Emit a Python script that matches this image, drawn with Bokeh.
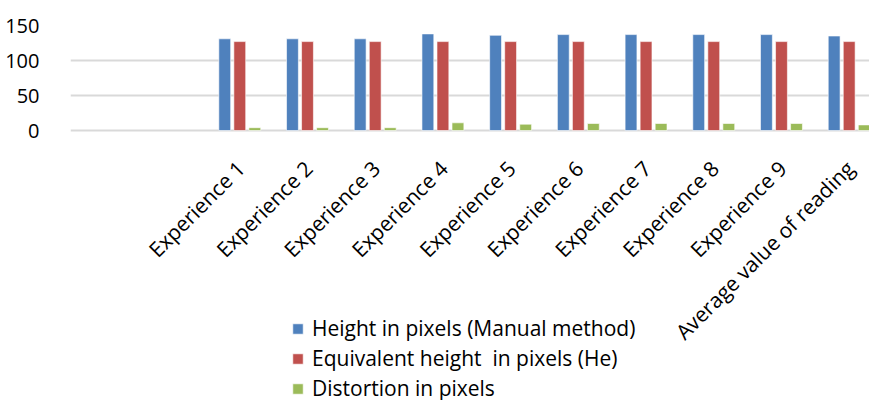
import numpy as np
from bokeh.plotting import figure
from bokeh.models import Range1d, FixedTicker, Legend, LegendItem
from bokeh.core.properties import value
from bokeh.embed import file_html
from bokeh.resources import INLINE

categories = ["", "", "Experience 1", "Experience 2", "Experience 3", "Experience 4",
              "Experience 5", "Experience 6", "Experience 7", "Experience 8",
              "Experience 9", "Average value of reading"]
manual = [None, None, 131, 131, 131, 138, 136, 137, 137, 137, 137, 135]
equivalent = [None, None, 127, 127, 127, 127, 127, 127, 127, 127, 127, 127]
distortion = [None, None, 4, 4, 4, 11, 9, 10, 10, 10, 10, 8]
series_names = ["Height in pixels (Manual method)", "Equivalent height  in pixels (He)",
                "Distortion in pixels"]
colors = ["#4F81BD", "#C0504D", "#9BBB59"]
y_ticks = [0, 50, 100, 150]

FONT = "Open Sans"

# frame spans the whole lower area so the legend and rotated labels can live inside it
p = figure(width=869, height=400, output_backend="svg", toolbar_location=None,
           x_range=Range1d(0, 11.8), y_range=Range1d(-385.7, 150))
p.min_border_left = 70
p.min_border_top = 25
p.min_border_right = 0
p.min_border_bottom = 0
p.outline_line_color = None
p.background_fill_color = "white"

centers = np.arange(len(categories)) + 0.5
offsets = [-0.222, 0.0, 0.222]
renderers = []
for vals, off, col in zip([manual, equivalent, distortion], offsets, colors):
    xs = [c + off for c, v in zip(centers, vals) if v is not None]
    ys = [v for v in vals if v is not None]
    r = p.vbar(x=xs, top=ys, bottom=0, width=0.175, fill_color=col,
               line_color="white", line_alpha=0.6, line_width=1)
    renderers.append(r)

# category labels, rotated 45 degrees, hanging below the zero line
p.text(x=centers, y=np.zeros(len(centers)), text=categories, angle=np.pi / 4,
       text_align="right", text_baseline="middle", x_offset=1, y_offset=34,
       text_font=value(FONT), text_font_size="21px", text_color="black")

p.xaxis.visible = False

p.yaxis.ticker = FixedTicker(ticks=y_ticks)
p.yaxis.axis_line_color = None
p.yaxis.major_tick_line_color = None
p.yaxis.minor_tick_line_color = None
p.yaxis.major_label_text_font = FONT
p.yaxis.major_label_text_font_size = "20px"
p.yaxis.major_label_text_color = "black"
p.yaxis.major_label_standoff = 25

p.xgrid.grid_line_color = None
p.ygrid.ticker = FixedTicker(ticks=y_ticks)
p.ygrid.grid_line_color = "#D9D9D9"
p.ygrid.grid_line_width = 2

legend = Legend(items=[LegendItem(label=n, renderers=[r]) for n, r in zip(series_names, renderers)],
                location=(221, -2), orientation="vertical")
legend.label_text_font = FONT
legend.label_text_font_size = "21px"
legend.label_text_color = "black"
legend.glyph_width = 13
legend.glyph_height = 13
legend.label_height = 25
legend.spacing = 2
legend.padding = 0
legend.margin = 0
legend.label_standoff = 8
legend.border_line_color = None
legend.background_fill_alpha = 0
p.add_layout(legend, "center")

open("out.html", "w").write(file_html(p, INLINE))
